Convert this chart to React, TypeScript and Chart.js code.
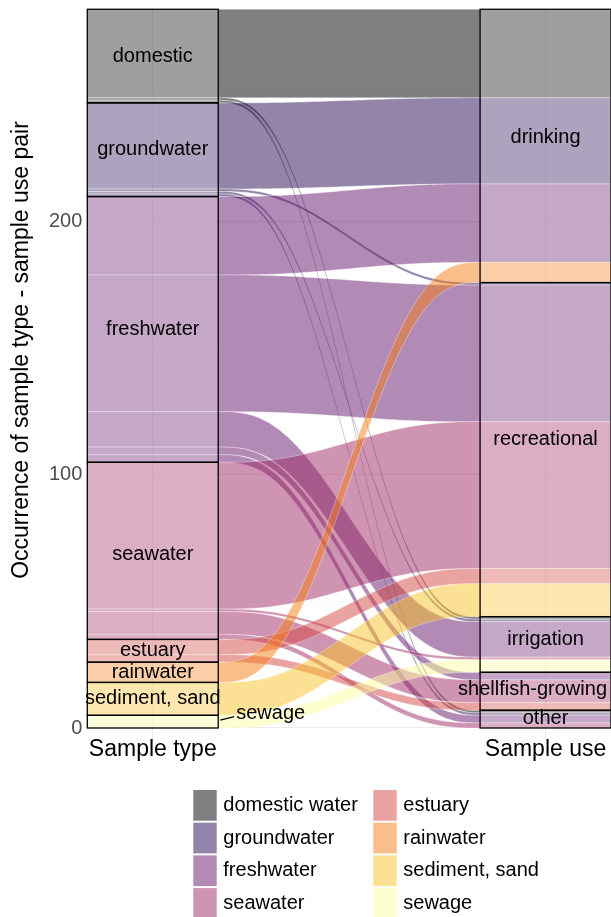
import React, { useEffect, useRef } from 'react';
import { Chart, registerables } from 'chart.js';

Chart.register(...registerables);

// ---------- data ----------
const sampleTypes = ['domestic', 'groundwater', 'freshwater', 'seawater', 'estuary', 'rainwater', 'sediment, sand', 'sewage'];
const legendLabels = ['domestic water', 'groundwater', 'freshwater', 'seawater', 'estuary', 'rainwater', 'sediment, sand', 'sewage'];
const sampleUses = ['drinking', 'recreational', 'irrigation', 'shellfish-growing', 'other'];
const axisLabels = ['Sample type', 'Sample use'];
const yTickValues = [0, 100, 200];
const yMinorValues = [50, 150, 250];
const yTitle = 'Occurrence of sample type - sample use pair';

// counts of each sample type going to each sample use (drinking, recreational, irrigation, shellfish-growing, other)
const domesticFlows = [35, 0, 1, 0, 1];
const groundwaterFlows = [34, 1, 1, 0, 1];
const freshwaterFlows = [31, 54, 14, 3, 3];
const seawaterFlows = [0, 58, 1, 9, 2];
const estuaryFlows = [0, 6, 0, 3, 0];
const rainwaterFlows = [8, 0, 0, 0, 0];
const sedimentFlows = [0, 13, 0, 0, 0];
const sewageFlows = [0, 0, 5, 0, 0];

// inferno palette
const typeColors = ['#000004', '#280B54', '#65156E', '#9F2A63', '#D44842', '#F57D15', '#FAC127', '#FCFFA4'];

// ---------- styles ----------
const FONT = '"Liberation Sans", Arial, Helvetica, sans-serif';
const FLOW_ALPHA = 0.5;
const STRATUM_WIDTH = 1 / 3;
const LEFT_LABEL_NUDGE = [0, 0, 0, 4, 0, 0, 0, 0];
const RIGHT_LABEL_NUDGE = [-8, -10, -5, -2, -1];

function rgba(hex: string, a: number) {
  const n = parseInt(hex.slice(1), 16);
  return `rgba(${(n >> 16) & 255},${(n >> 8) & 255},${n & 255},${a})`;
}

function smooth(u: number) {
  return u * u * u * (u * (u * 6 - 15) + 10);
}

const alluvialPlugin = {
  id: 'alluvial',
  afterDatasetsDraw(chart: any) {
    const { ctx, scales, chartArea } = chart;
    const x = scales.x;
    const y = scales.y;
    const flows = [domesticFlows, groundwaterFlows, freshwaterFlows, seawaterFlows, estuaryFlows, rainwaterFlows, sedimentFlows, sewageFlows];
    const srcTotals = flows.map((r) => r.reduce((a, b) => a + b, 0));
    const tgtTotals = sampleUses.map((_, j) => flows.reduce((a, r) => a + r[j], 0));
    const total = srcTotals.reduce((a, b) => a + b, 0);
    const srcTop: number[] = [];
    let acc = total;
    srcTotals.forEach((t, i) => { srcTop[i] = acc; acc -= t; });
    const tgtTop: number[] = [];
    acc = total;
    tgtTotals.forEach((t, j) => { tgtTop[j] = acc; acc -= t; });

    const hw = STRATUM_WIDTH / 2;
    const xl0 = x.getPixelForValue(1 - hw);
    const xl1 = x.getPixelForValue(1 + hw);
    const xr0 = x.getPixelForValue(2 - hw);
    const xr1 = x.getPixelForValue(2 + hw);

    const srcOff = srcTop.slice();
    const tgtOff = tgtTop.slice();
    const N = 80;
    ctx.save();
    flows.forEach((row, i) => {
      row.forEach((c, j) => {
        if (c <= 0) return;
        const s0 = srcOff[i];
        const t0 = tgtOff[j];
        srcOff[i] -= c;
        tgtOff[j] -= c;
        const ys0 = y.getPixelForValue(s0);
        const ys1 = y.getPixelForValue(s0 - c);
        const yt0 = y.getPixelForValue(t0);
        const yt1 = y.getPixelForValue(t0 - c);
        ctx.beginPath();
        ctx.moveTo(xl0, ys0);
        ctx.lineTo(xl1, ys0);
        for (let k = 1; k <= N; k++) {
          const u = k / N;
          ctx.lineTo(xl1 + (xr0 - xl1) * u, ys0 + (yt0 - ys0) * smooth(u));
        }
        ctx.lineTo(xr1, yt0);
        ctx.lineTo(xr1, yt1);
        ctx.lineTo(xr0, yt1);
        for (let k = 1; k <= N; k++) {
          const u = k / N;
          ctx.lineTo(xr0 + (xl1 - xr0) * u, yt1 + (ys1 - yt1) * smooth(u));
        }
        ctx.lineTo(xl0, ys1);
        ctx.closePath();
        ctx.fillStyle = rgba(typeColors[i], FLOW_ALPHA);
        ctx.fill();
        ctx.strokeStyle = 'rgba(255,255,255,0.55)';
        ctx.lineWidth = 0.6;
        ctx.stroke();
      });
    });

    // strata
    const drawStrata = (tops: number[], totals: number[], xa: number, xb: number) => {
      tops.forEach((t, k) => {
        const ya = y.getPixelForValue(t);
        const yb = y.getPixelForValue(t - totals[k]);
        ctx.fillStyle = 'rgba(255,255,255,0.25)';
        ctx.fillRect(xa, ya, xb - xa, yb - ya);
      });
      ctx.strokeStyle = '#000';
      ctx.lineWidth = 1.3;
      tops.forEach((t, k) => {
        const ya = y.getPixelForValue(t);
        const yb = y.getPixelForValue(t - totals[k]);
        ctx.strokeRect(xa, ya, xb - xa, yb - ya);
      });
    };
    drawStrata(srcTop, srcTotals, xl0, xl1);
    drawStrata(tgtTop, tgtTotals, xr0, xr1);

    // stratum labels
    ctx.fillStyle = '#000';
    ctx.font = `20px ${FONT}`;
    ctx.textBaseline = 'middle';
    const xlc = x.getPixelForValue(1);
    const xrc = x.getPixelForValue(2);
    sampleTypes.forEach((name, i) => {
      const yc = y.getPixelForValue(srcTop[i] - srcTotals[i] / 2);
      if (srcTotals[i] < 6) {
        // small stratum: label outside with a leader line
        ctx.strokeStyle = '#000';
        ctx.lineWidth = 1.2;
        ctx.beginPath();
        ctx.moveTo(xl1 + 2, yc - 1.5);
        ctx.lineTo(xl1 + 16, yc - 5);
        ctx.stroke();
        ctx.textAlign = 'left';
        ctx.fillText(name, xl1 + 18, yc - 8);
      } else {
        ctx.textAlign = 'center';
        ctx.fillText(name, xlc, yc + LEFT_LABEL_NUDGE[i]);
      }
    });
    sampleUses.forEach((name, j) => {
      const yc = y.getPixelForValue(tgtTop[j] - tgtTotals[j] / 2);
      const w = ctx.measureText(name).width;
      const cx = Math.min(xrc, chartArea.right - 4 - w / 2);
      ctx.textAlign = 'center';
      ctx.fillText(name, cx, yc + RIGHT_LABEL_NUDGE[j]);
    });
    ctx.restore();
  },
  afterDraw(chart: any) {
    const { ctx } = chart;
    ctx.save();
    // y axis title
    ctx.translate(22, 350);
    ctx.rotate(-Math.PI / 2);
    ctx.font = `23px ${FONT}`;
    ctx.fillStyle = '#000';
    ctx.textAlign = 'center';
    ctx.textBaseline = 'middle';
    ctx.fillText(yTitle, 0, 0);
    ctx.restore();

    // legend
    ctx.save();
    const colX = [193.3, 373.3];
    const top = 790;
    const pitch = 32.7;
    ctx.font = `20px ${FONT}`;
    ctx.textBaseline = 'middle';
    ctx.textAlign = 'left';
    legendLabels.forEach((lab, k) => {
      const col = Math.floor(k / 4);
      const row = k % 4;
      const kx = colX[col];
      const ky = top + row * pitch;
      ctx.fillStyle = rgba(typeColors[k], FLOW_ALPHA);
      ctx.fillRect(kx, ky, 23.4, 30.7);
      ctx.fillStyle = '#000';
      ctx.fillText(lab, kx + 30, ky + 15.5);
    });
    ctx.restore();
  },
};

export default function App() {
  const ref = useRef<HTMLCanvasElement>(null);
  useEffect(() => {
    document.body.style.margin = '0';
    const canvas = ref.current;
    if (!canvas) return;
    const chart = new Chart(canvas, {
      type: 'scatter',
      data: { datasets: [] },
      options: {
        animation: false,
        responsive: false,
        devicePixelRatio: 1,
        layout: { padding: { top: 7, right: 0, left: 0, bottom: 0 } },
        plugins: { legend: { display: false }, tooltip: { enabled: false } },
        scales: {
          x: {
            type: 'linear',
            min: 1 - 1 / 6,
            max: 2 + 1 / 6,
            afterBuildTicks: (s: any) => { s.ticks = axisLabels.map((_, i) => ({ value: i + 1 })); },
            afterFit: (s: any) => { s.height = 178; s.paddingLeft = 0; s.paddingRight = 0; },
            ticks: {
              callback: (v: any) => axisLabels[Math.round(Number(v)) - 1] ?? '',
              color: '#000',
              font: { size: 23, family: FONT },
              padding: -3,
              maxRotation: 0,
              autoSkip: false,
            },
            grid: { color: '#ebebeb', lineWidth: 1, drawTicks: false },
            border: { display: false },
          },
          y: {
            type: 'linear',
            min: -4.35,
            max: 284.9,
            afterBuildTicks: (s: any) => {
              s.ticks = [...yTickValues, ...yMinorValues].sort((a, b) => a - b).map((v) => ({ value: v }));
            },
            afterFit: (s: any) => { s.width = 87.3; s.paddingTop = 0; s.paddingBottom = 0; },
            ticks: {
              callback: (v: any) => (yTickValues.includes(Number(v)) ? String(v) : ''),
              color: '#4d4d4d',
              font: { size: 20, family: FONT },
              padding: 5,
              autoSkip: false,
            },
            grid: {
              color: (c: any) => (yTickValues.includes(c.tick?.value) ? '#ebebeb' : '#f3f3f3'),
              lineWidth: (c: any) => (yTickValues.includes(c.tick?.value) ? 1.1 : 0.7),
              drawTicks: false,
            },
            border: { display: false },
          },
        },
      },
      plugins: [alluvialPlugin],
    } as any);
    return () => chart.destroy();
  }, []);
  return (
    <div style={{ width: 611, height: 917 }}>
      <canvas ref={ref} width={611} height={917} style={{ display: 'block' }} />
    </div>
  );
}
